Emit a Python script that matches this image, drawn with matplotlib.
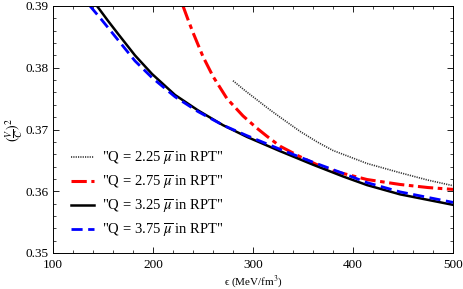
import matplotlib
matplotlib.use('Agg')
import matplotlib.pyplot as plt
from matplotlib.ticker import MultipleLocator

plt.rcParams['font.family'] = ['Liberation Serif', 'DejaVu Serif']
plt.rcParams['mathtext.fontset'] = 'stix'

# values
eps_225 = [280, 292, 304, 316, 327, 347, 364, 380, 414, 447, 475, 500]
v2_225 = [0.3779, 0.3763, 0.3748, 0.3733, 0.3720, 0.3697, 0.3680, 0.3666, 0.3645, 0.3630, 0.3618, 0.3609]

eps_275 = [230, 235, 240, 250, 260, 274, 290, 304, 314, 327, 347, 364, 380, 414, 447, 475, 500]
v2_275 = [0.3900, 0.3878, 0.3857, 0.3818, 0.3786, 0.3750, 0.3722, 0.3702, 0.3689, 0.3673, 0.3656,
          0.3643, 0.3633, 0.3619, 0.3611, 0.3606, 0.3603]

eps_325 = [144, 155, 165, 182, 199, 222, 245, 270, 294, 327, 360, 390, 414, 447, 475, 500]
v2_325 = [0.3900, 0.3876, 0.3855, 0.3820, 0.3790, 0.3756, 0.3731, 0.3707, 0.3688, 0.3665, 0.3643,
          0.3624, 0.3610, 0.3595, 0.3586, 0.3578]

eps_375 = [137, 149, 165, 182, 199, 222, 245, 270, 294, 327, 360, 390, 414, 447, 475, 500]
v2_375 = [0.3900, 0.3877, 0.3845, 0.3811, 0.3784, 0.3753, 0.3729, 0.3707, 0.3690, 0.3668, 0.3647,
          0.3629, 0.3614, 0.3599, 0.3590, 0.3582]

labels = ['"Q = 2.25 $\\overline{\\mu}$ in RPT"',
          '"Q = 2.75 $\\overline{\\mu}$ in RPT"',
          '"Q = 3.25 $\\overline{\\mu}$ in RPT"',
          '"Q = 3.75 $\\overline{\\mu}$ in RPT"']

fig = plt.figure(figsize=(4.63, 2.89), dpi=100)
ax = fig.add_axes([53 / 463, 1 - 253 / 289, 400 / 463, 247 / 289])

ax.plot(eps_225, v2_225, color='#333333', lw=1.2, ls=(0, (0.7, 0.7)), label=labels[0])
ax.plot(eps_275, v2_275, color='red', lw=2.2, ls=(0, (5, 1.5, 1.5, 1.5)), label=labels[1])
ax.plot(eps_325, v2_325, color='black', lw=1.8, label=labels[2])
ax.plot(eps_375, v2_375, color='blue', lw=2.0, ls=(0, (4, 2)), label=labels[3])

ax.set_xlim(100, 500)
ax.set_ylim(0.35, 0.39)
ax.xaxis.set_major_locator(MultipleLocator(100))
ax.xaxis.set_minor_locator(MultipleLocator(20))
ax.yaxis.set_major_locator(MultipleLocator(0.01))
ax.yaxis.set_minor_locator(MultipleLocator(0.002))
ax.tick_params(which='both', direction='in', top=True, right=True, labelsize=9.5)
ax.tick_params(axis='x', pad=4)
ax.tick_params(axis='y', pad=3)
ax.tick_params(which='major', length=4, width=0.6)
ax.tick_params(which='minor', length=2, width=0.5)
for s in ax.spines.values():
    s.set_linewidth(0.7)

ax.set_xlabel('ϵ (MeV/fm$^3$)', fontsize=8, labelpad=2)
ax.set_ylabel('$(\\frac{V}{C})^2$', fontsize=10, labelpad=0)

ax.legend(loc='lower left', bbox_to_anchor=(0.012, 0.0), frameon=False, fontsize=10.5,
          handlelength=1.55, handletextpad=0.6, labelspacing=0.4)

fig.savefig('out.png', dpi=100)
